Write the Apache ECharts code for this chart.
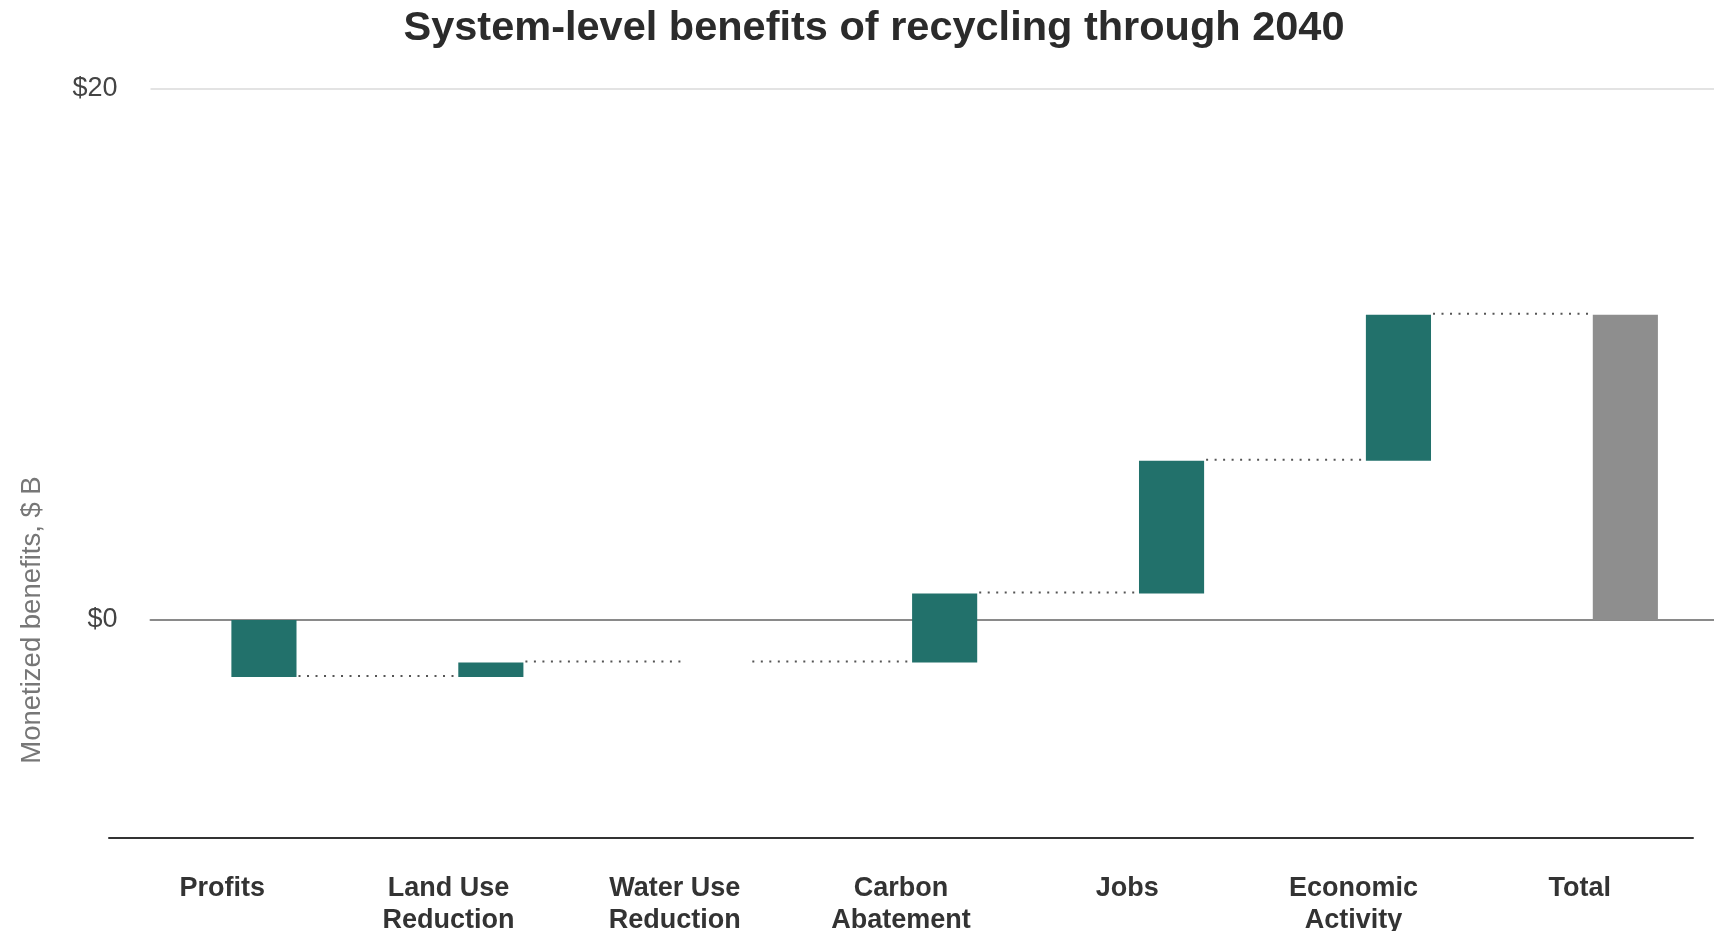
<!DOCTYPE html>
<html>
<head>
<meta charset="utf-8">
<title>System-level benefits of recycling through 2040</title>
<script src="https://cdn.jsdelivr.net/npm/echarts@6/dist/echarts.min.js"></script>
<style>
  html, body { margin: 0; padding: 0; background: #ffffff; }
  #chart { width: 1714px; height: 931px; }
</style>
</head>
<body>
<div id="chart"></div>
<script>
// Waterfall steps, in billions of dollars
const categories = ['Profits', 'Land Use\nReduction', 'Water Use\nReduction', 'Carbon\nAbatement', 'Jobs', 'Economic\nActivity', 'Total'];
const changes = [-2.15, 0.55, 0, 2.6, 5.0, 5.5];
const yTickValues = [0, 20];

const FONT = '"Liberation Sans", Arial, Helvetica, sans-serif';
const TEAL = '#22716b';
const GREY = '#8e8e8e';
const BAR_FRACTION = 0.287;

// Bar plot: one unit per step, 226.9 px each, starting half a step left of the first bar
const PLOT_LEFT = 150.5;
const STEP_PX = 226.9;
const PLOT_WIDTH = 1714 - PLOT_LEFT;

// Running totals: each step floats from the previous level to the new level
const steps = [];
const links = [];
let level = 0;
changes.forEach(function (d, i) {
  const next = level + d;
  steps.push([i, Math.min(level, next), Math.max(level, next), 0]);
  links.push([i, next]);
  level = next;
});
steps.push([changes.length, Math.min(0, level), Math.max(0, level), 1]);

const chart = echarts.init(document.getElementById('chart'), null, { renderer: 'canvas' });

chart.setOption({
  backgroundColor: '#ffffff',
  animation: false,
  title: {
    text: 'System-level benefits of recycling through 2040',
    left: 874,
    textAlign: 'center',
    top: 8,
    padding: 0,
    textStyle: { fontFamily: FONT, fontSize: 41.5, fontWeight: 'bold', color: '#2b2b2b' }
  },
  grid: [
    // plotting area for the bars
    { left: PLOT_LEFT, width: PLOT_WIDTH, top: 89, height: 743.4, containLabel: false, outerBoundsMode: 'none' },
    // category label axis with the baseline at the bottom
    { left: 109, width: 1584, top: 402, height: 436, containLabel: false, outerBoundsMode: 'none' }
  ],
  xAxis: [
    {
      gridIndex: 0, type: 'value', min: -0.5, max: -0.5 + PLOT_WIDTH / STEP_PX,
      axisLine: { show: true, onZero: true, lineStyle: { color: '#8a8a8a', width: 2 } },
      axisTick: { show: false }, axisLabel: { show: false }, splitLine: { show: false }
    },
    {
      gridIndex: 1, type: 'category', data: categories, position: 'bottom',
      axisLine: { show: true, onZero: false, lineStyle: { color: '#333333', width: 2 } },
      axisTick: { show: false }, splitLine: { show: false },
      axisLabel: {
        interval: 0, margin: 35, fontFamily: FONT, fontSize: 27, fontWeight: 'bold',
        color: '#333333', lineHeight: 31.6
      }
    }
  ],
  yAxis: [
    {
      gridIndex: 0, type: 'value', min: -8, max: 20,
      axisLine: { show: false }, axisTick: { show: false }, splitLine: { show: false },
      axisLabel: {
        customValues: yTickValues, margin: 33, fontFamily: FONT, fontSize: 27, color: '#444444',
        formatter: function (v) { return '$' + v; }
      }
    },
    {
      gridIndex: 1, type: 'value', min: 0, max: 1,
      axisLine: { show: false }, axisTick: { show: false }, splitLine: { show: false },
      axisLabel: { show: false },
      name: 'Monetized benefits, $ B', nameLocation: 'middle', nameGap: 63,
      nameTextStyle: { fontFamily: FONT, fontSize: 27.5, color: '#777777' }
    }
  ],
  series: [
    {
      name: 'steps', type: 'custom', xAxisIndex: 0, yAxisIndex: 0,
      data: steps,
      encode: { x: 0, y: [1, 2] },
      renderItem: function (params, api) {
        const i = api.value(0);
        const top = api.coord([i, api.value(2)]);
        const bottom = api.coord([i, api.value(1)]);
        const w = api.size([1, 0])[0] * BAR_FRACTION;
        const h = bottom[1] - top[1];
        if (h <= 0) return null;
        return {
          type: 'rect',
          shape: { x: top[0] - w / 2, y: top[1], width: w, height: h },
          style: { fill: api.value(3) ? GREY : TEAL }
        };
      },
      markLine: {
        silent: true, symbol: 'none', label: { show: false },
        lineStyle: { color: '#e3e3e3', width: 2, type: 'solid' },
        data: [{ yAxis: yTickValues[1] }]
      },
      z: 3
    },
    {
      name: 'connectors', type: 'custom', xAxisIndex: 0, yAxisIndex: 0,
      data: links,
      encode: { x: 0, y: 1 },
      renderItem: function (params, api) {
        const i = api.value(0);
        const v = api.value(1);
        const a = api.coord([i, v]);
        const b = api.coord([i + 1, v]);
        const w = api.size([1, 0])[0] * BAR_FRACTION;
        return {
          type: 'line',
          shape: { x1: a[0] + w / 2 + 2, y1: a[1] - 1, x2: b[0] - w / 2 - 2, y2: b[1] - 1 },
          style: { stroke: '#555555', lineWidth: 2, lineDash: [2, 6.5] }
        };
      },
      z: 2
    }
  ]
});
</script>
</body>
</html>
